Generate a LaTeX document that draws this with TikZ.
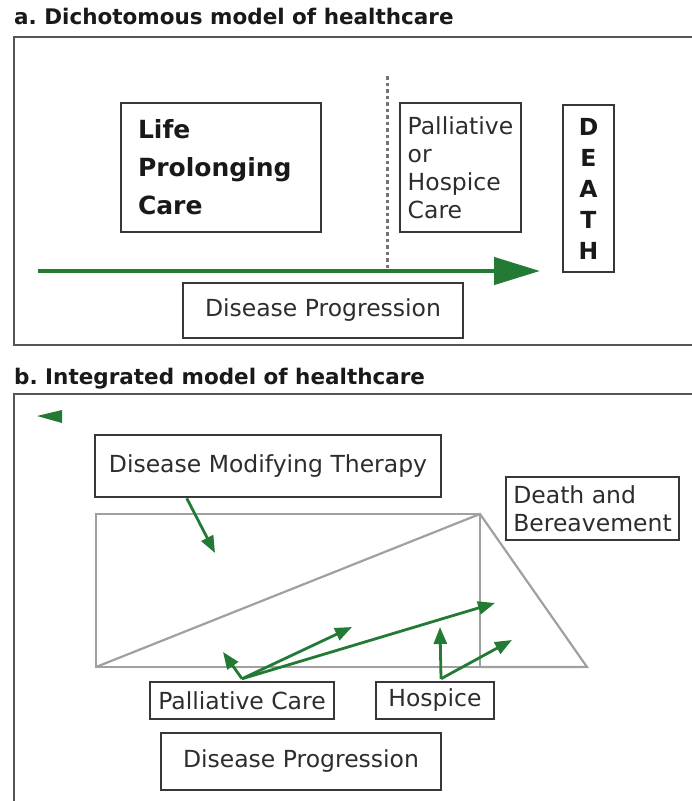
\documentclass[tikz,border=0pt]{standalone}
\usepackage{fontspec}
\setmainfont{DejaVu Sans}
\usetikzlibrary{arrows.meta}

\definecolor{arrowgreen}{RGB}{34,122,52}
\definecolor{boxgray}{RGB}{55,55,55}
\definecolor{textgray}{RGB}{45,45,45}
\definecolor{shapegray}{RGB}{160,160,160}

\begin{document}
\begin{tikzpicture}[x=1pt, y=-1pt,
  title/.style={anchor=base west, inner sep=0pt, font=\titlefont, text=black!90},
  frame/.style={draw=boxgray!85, line width=2.8pt},
  box/.style={draw=boxgray, line width=2.5pt, inner sep=0pt, text=textgray, font=\regfont},
  greenarrow/.style={draw=arrowgreen, line width=2.8pt, -{Triangle[length=17pt,width=13pt]}},
  shapeline/.style={draw=shapegray, line width=2.2pt}]
\def\titlefont{\fontsize{21.5}{26}\bfseries\selectfont}
\def\regfont{\fontsize{23.5}{28}\selectfont}
\def\lifefont{\fontsize{25}{38}\bfseries\selectfont}
\def\deathfont{\fontsize{23.5}{31}\bfseries\selectfont}

\useasboundingbox (0,0) rectangle (692,801);

\begin{scope}[shift={(0,0)}] % TOP PANEL
\node[title] (titleA) at (14,24) {a.\ Dichotomous model of healthcare};
\draw[frame] (692,37) -- (14,37) -- (14,345) -- (692,345);

\node[box, font=\lifefont, text=black!90, align=left, text width=166pt, inner xsep=17pt, minimum height=129pt] (life) at (221,167.5) {Life\\Prolonging\\Care};
\node[box, align=left, minimum width=121pt, minimum height=129pt] (palliative) at (460.5,167.5) {Palliative\\or\\Hospice\\Care};
\node[box, font=\deathfont, text=black!90, align=center, minimum width=51pt, minimum height=167pt] (death) at (588.5,188.5) {D\\E\\A\\T\\H};

\coordinate (progStart) at (38,271);
\coordinate (progEnd) at (540,271);
\coordinate (divTop) at (387,76);
\draw[draw=gray!90!black, line width=3pt, dash pattern=on 3.5pt off 3pt] (divTop) -- (divTop |- progStart);
\draw[draw=arrowgreen, line width=4.5pt, -{Triangle[length=46pt,width=27pt]}] (progStart) -- (progEnd);

\node[box, minimum width=280pt, minimum height=55pt] (progA) at (323,310.5) {Disease Progression};
\end{scope}

\begin{scope}[shift={(0,360)}] % BOTTOM PANEL
\node[title] (titleB) at (14,24) {b.\ Integrated model of healthcare};
\draw[frame] (692,34) -- (14,34) -- (14,441);
\fill[arrowgreen] (37,56) -- (62,50) -- (62,63) -- cycle;

\node[box, minimum width=346pt, minimum height=62pt] (therapy) at (268,106) {Disease Modifying Therapy};
\node[box, align=left, minimum width=173pt, minimum height=63pt] (bereave) at (592.5,148.5) {Death and\\Bereavement};

\draw[shapeline] (96,154) rectangle (480,307);
\draw[shapeline] (96,307) -- (480,154) -- (587,307) -- (480,307);

\node[box, minimum width=184pt, minimum height=37pt] (palcare) at (242,340.5) {Palliative Care};
\node[box, minimum width=118pt, minimum height=37pt] (hospice) at (435,340.5) {Hospice};
\node[box, minimum width=280pt, minimum height=57pt] (progB) at (301,401.5) {Disease Progression};

\coordinate (therapyEnd) at (215,193);
\coordinate (palA) at (223,292);
\coordinate (palB) at (352,267);
\coordinate (palC) at (495,243);
\coordinate (hosA) at (440,267);
\coordinate (hosB) at (512,280);

\draw[greenarrow] ([xshift=93pt]therapy.south west) -- (therapyEnd);
\draw[greenarrow] ([yshift=2pt]palcare.north) -- (palA);
\draw[greenarrow] ([yshift=2pt]palcare.north) -- (palB);
\draw[greenarrow] ([yshift=2pt]palcare.north) -- (palC);
\draw[greenarrow] ([xshift=6pt,yshift=2pt]hospice.north) -- (hosA);
\draw[greenarrow] ([xshift=6pt,yshift=2pt]hospice.north) -- (hosB);
\end{scope}
\end{tikzpicture}
\end{document}
